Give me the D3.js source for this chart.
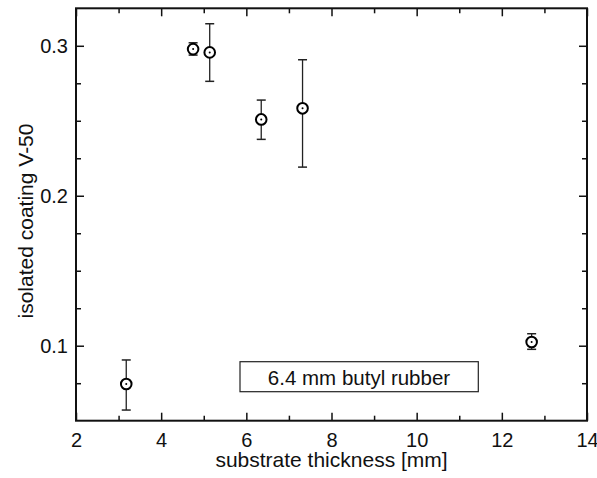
<!DOCTYPE html>
<html><head><meta charset="utf-8">
<script src="https://cdn.jsdelivr.net/npm/d3@7"></script>
<style>body{margin:0;background:#fff}svg{display:block}text{font-family:"Liberation Sans",Arial,sans-serif;fill:#111}</style>
</head><body>
<script>
const thickness = [3.18, 4.75, 5.14, 6.35, 7.32, 12.7];
const v50 = [0.0745, 0.2978, 0.2956, 0.2509, 0.2583, 0.1025];
const v50Low = [0.0571, 0.2938, 0.2763, 0.2376, 0.2191, 0.0976];
const v50High = [0.0905, 0.3020, 0.3147, 0.2638, 0.2907, 0.1080];
const xTicks = [2, 4, 6, 8, 10, 12, 14];
const xMinor = [3, 5, 7, 9, 11, 13];
const yTicks = [0.1, 0.2, 0.3];
const yMinor = [0.075, 0.125, 0.15, 0.175, 0.225, 0.25, 0.275];
const xTitle = "substrate thickness [mm]";
const yTitle = "isolated coating V-50";
const noteText = "6.4 mm butyl rubber";

const W = 597, H = 478;
const L = 76, R = 587, T = 8.3, B = 420.7;
const svg = d3.select("body").append("svg").attr("width", W).attr("height", H);
const x = d3.scaleLinear().domain([2, 14]).range([L, R]);
const y = d3.scaleLinear().domain([0.05, 0.325]).range([B, T]);

const axG = svg.append("g");
function addAxis(axis, tr, ticks, size, labels) {
  const g = axG.append("g").attr("transform", tr)
    .call(axis.tickValues(ticks).tickSizeInner(size).tickSizeOuter(0).tickFormat(labels ? d3.format("") : ""));
  g.select(".domain").remove();
  g.attr("font-size", 20).attr("font-family", "Liberation Sans, Arial, sans-serif");
  g.selectAll(".tick line").attr("stroke", "#111").attr("stroke-width", 1.5);
  g.selectAll(".tick text").attr("fill", "#111");
  return g;
}
const bx = addAxis(d3.axisBottom(x), `translate(0,${B})`, xTicks, -8, true);
bx.selectAll(".tick text").attr("y", 26).attr("dy", null);
addAxis(d3.axisBottom(x), `translate(0,${B})`, xMinor, -5, false);
addAxis(d3.axisTop(x), `translate(0,${T})`, xTicks, -8, false);
addAxis(d3.axisTop(x), `translate(0,${T})`, xMinor, -5, false);
const ly = addAxis(d3.axisLeft(y), `translate(${L},0)`, yTicks, -8, true);
ly.selectAll(".tick text").attr("x", -8).attr("dy", "0.36em");
addAxis(d3.axisLeft(y), `translate(${L},0)`, yMinor, -5, false);
addAxis(d3.axisRight(y), `translate(${R},0)`, yTicks, -8, false);
addAxis(d3.axisRight(y), `translate(${R},0)`, yMinor, -5, false);

svg.append("rect").attr("x", L).attr("y", T).attr("width", R - L).attr("height", B - T)
  .attr("fill", "none").attr("stroke", "#111").attr("stroke-width", 2);

// titles
svg.append("text").attr("x", (L + R) / 2).attr("y", 467).attr("text-anchor", "middle")
  .attr("font-size", 21).text(xTitle);
svg.append("text").attr("transform", `translate(33,221) rotate(-90)`)
  .attr("text-anchor", "middle").attr("font-size", 21).text(yTitle);

// note box
const nb = svg.append("g");
nb.append("rect").attr("x", 240).attr("y", 361.7).attr("width", 238.3).attr("height", 30)
  .attr("fill", "#fff").attr("stroke", "#222").attr("stroke-width", 1.2);
nb.append("text").attr("x", 359).attr("y", 385).attr("text-anchor", "middle")
  .attr("font-size", 20.5).text(noteText);

// data
const data = thickness.map((t, i) => ({t, v: v50[i], lo: v50Low[i], hi: v50High[i]}));
const pts = svg.append("g").selectAll("g").data(data).join("g");
pts.append("line").attr("x1", d => x(d.t)).attr("x2", d => x(d.t))
  .attr("y1", d => y(d.lo)).attr("y2", d => y(d.hi)).attr("stroke", "#222").attr("stroke-width", 1.3);
pts.append("line").attr("x1", d => x(d.t) - 4.5).attr("x2", d => x(d.t) + 4.5)
  .attr("y1", d => y(d.hi)).attr("y2", d => y(d.hi)).attr("stroke", "#222").attr("stroke-width", 1.5);
pts.append("line").attr("x1", d => x(d.t) - 4.5).attr("x2", d => x(d.t) + 4.5)
  .attr("y1", d => y(d.lo)).attr("y2", d => y(d.lo)).attr("stroke", "#222").attr("stroke-width", 1.5);
pts.append("circle").attr("cx", d => x(d.t)).attr("cy", d => y(d.v)).attr("r", 5.3)
  .attr("fill", "#fff").attr("stroke", "#000").attr("stroke-width", 2);
pts.append("circle").attr("cx", d => x(d.t)).attr("cy", d => y(d.v)).attr("r", 1).attr("fill", "#000");
</script>
</body></html>
